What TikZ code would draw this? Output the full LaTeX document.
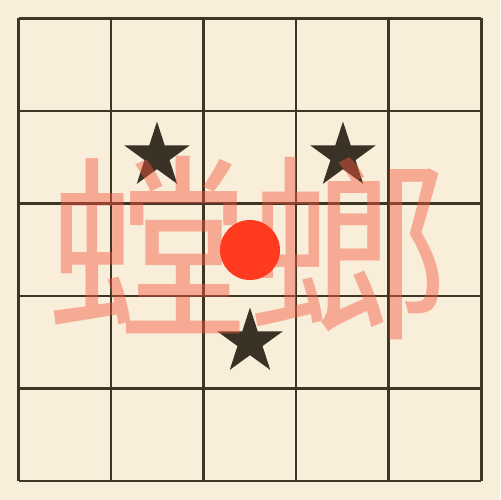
\documentclass[tikz,border=0pt]{standalone}
\usepackage{fontspec}
\newfontfamily\cjkfont{Noto Sans CJK SC}
\usetikzlibrary{shapes.geometric}

\definecolor{parchment}{HTML}{F8EED9}
\definecolor{gridBrown}{HTML}{3E3527}
\definecolor{starBrown}{HTML}{3B3226}
\definecolor{dotRed}{HTML}{FF3A1E}
\definecolor{inkRed}{HTML}{F4583F}

\begin{document}
\begin{tikzpicture}[
  x=0.02cm, y=-0.02cm,
  gridLine/.style   ={draw=gridBrown, line width=1.7pt},
  starNode/.style   ={star, star points=5, star point ratio=2.618, fill=starBrown, inner sep=0pt, minimum size=13.8mm},
  dotNode/.style    ={circle, fill=dotRed, inner sep=0pt, minimum size=12mm},
  wordNode/.style   ={text=inkRed, text opacity=0.45, font=\cjkfont\fontsize{114pt}{114pt}\selectfont, inner sep=0pt}
]

% ================== BACKGROUND ==================
\fill[parchment] (0,0) rectangle (500,500);
\useasboundingbox (0,0) rectangle (500,500);

% ================== GRID ==================
\foreach \k in {0,...,5} {
  \draw[gridLine] (18.5+92.5*\k,18.5) -- (18.5+92.5*\k,481);
  \draw[gridLine] (18.5,18.5+92.5*\k) -- (481,18.5+92.5*\k);
}

% ================== STARS ==================
\node[starNode] (StarLeft)  at (157,156) {};
\node[starNode] (StarRight) at (343,156) {};
\node[starNode] (StarLow)   at (250,342) {};

% ================== WORD ==================
\node[wordNode] (WORD) at (248,248) {螳螂};

% ================== DOT ==================
\node[dotNode] (DOT) at (250,250) {};

\end{tikzpicture}
\end{document}
